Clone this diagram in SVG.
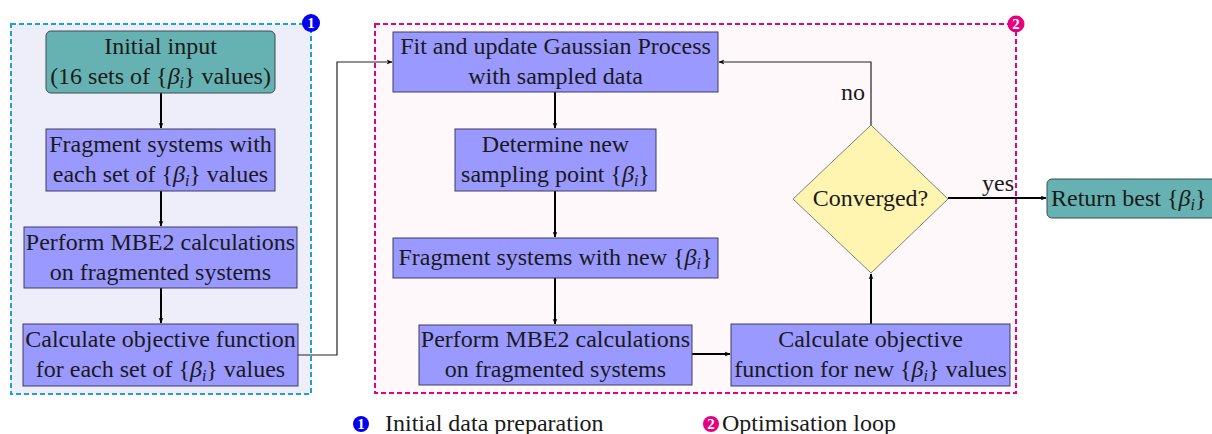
<svg xmlns="http://www.w3.org/2000/svg" width="1212" height="434" viewBox="0 0 1212 434">
<defs>
<marker id="ah" viewBox="0 0 10 10" refX="9" refY="5" markerWidth="6" markerHeight="6" markerUnits="userSpaceOnUse" orient="auto">
<path d="M0,1 L10,5 L0,9 L3,5 Z" fill="#000"/>
</marker>
</defs>
<g id="group1">
<rect x="11" y="24" width="300" height="370" fill="#EEEEFB" stroke="#1BA1D6" stroke-width="2" stroke-dasharray="5,3"/>
<circle cx="311" cy="23" r="9" fill="#0000EE"/>
<text x="311" y="28" font-family="Liberation Serif" font-size="15" font-weight="bold" fill="#fff" text-anchor="middle">1</text>
</g>
<g id="group2">
<rect x="375" y="24" width="641" height="369" fill="#FFF8FA" stroke="#E6007E" stroke-width="2" stroke-dasharray="5,3"/>
<circle cx="1016" cy="24" r="8.5" fill="#E6007E"/>
<text x="1016" y="29" font-family="Liberation Serif" font-size="15" font-weight="bold" fill="#fff" text-anchor="middle">2</text>
</g>
<g id="connectors" fill="none">
<g stroke="#000" stroke-width="2" marker-end="url(#ah)">
<line x1="161" y1="93" x2="161" y2="128"/>
<line x1="161" y1="191" x2="161" y2="226"/>
<line x1="161" y1="287" x2="161" y2="323"/>
<line x1="555" y1="92" x2="555" y2="128"/>
<line x1="555" y1="191" x2="555" y2="237"/>
<line x1="555" y1="278" x2="555" y2="324"/>
<line x1="692" y1="354" x2="730" y2="354"/>
<line x1="871" y1="324" x2="871" y2="274"/>
<line x1="948" y1="198" x2="1046" y2="198"/>
</g>
<g stroke="#222" stroke-width="1.2" marker-end="url(#ah)">
<polyline points="298,355 337,355 337,62 392,62"/>
<polyline points="871,125 871,62 719,62"/>
</g>
<text x="853" y="100" font-family="Liberation Serif" font-size="24" fill="#1a1a1a" text-anchor="middle">no</text>
<text x="998" y="191" font-family="Liberation Serif" font-size="24" fill="#1a1a1a" text-anchor="middle">yes</text>
</g>
<g id="nodes">
<g id="n1">
<rect x="46" y="31" width="229" height="62" rx="5" fill="#66B2B2" stroke="#3d4a4a"/>
<text x="160.5" y="54" font-family="Liberation Serif" font-size="24" fill="#1a1a1a" text-anchor="middle">Initial input</text>
<text x="160.5" y="84" font-family="Liberation Serif" font-size="24" fill="#1a1a1a" text-anchor="middle">(16 sets of {<tspan font-style="italic">β</tspan><tspan font-style="italic" font-size="16" dy="4">i</tspan><tspan dy="-4">} values)</tspan></text>
</g>
<g id="n2">
<rect x="46" y="129" width="229" height="62" fill="#9999FF" stroke="#3d3d5c"/>
<text x="160.5" y="152" font-family="Liberation Serif" font-size="24" fill="#1a1a1a" text-anchor="middle">Fragment systems with</text>
<text x="160.5" y="182" font-family="Liberation Serif" font-size="24" fill="#1a1a1a" text-anchor="middle">each set of {<tspan font-style="italic">β</tspan><tspan font-style="italic" font-size="16" dy="4">i</tspan><tspan dy="-4">} values</tspan></text>
</g>
<g id="n3">
<rect x="24" y="227" width="273" height="61" fill="#9999FF" stroke="#3d3d5c"/>
<text x="160.5" y="250" font-family="Liberation Serif" font-size="24" fill="#1a1a1a" text-anchor="middle">Perform MBE2 calculations</text>
<text x="160.5" y="280" font-family="Liberation Serif" font-size="24" fill="#1a1a1a" text-anchor="middle">on fragmented systems</text>
</g>
<g id="n4">
<rect x="23" y="324" width="275" height="62" fill="#9999FF" stroke="#3d3d5c"/>
<text x="160.5" y="347" font-family="Liberation Serif" font-size="24" fill="#1a1a1a" text-anchor="middle">Calculate objective function</text>
<text x="160.5" y="377" font-family="Liberation Serif" font-size="24" fill="#1a1a1a" text-anchor="middle">for each set of {<tspan font-style="italic">β</tspan><tspan font-style="italic" font-size="16" dy="4">i</tspan><tspan dy="-4">} values</tspan></text>
</g>
<g id="n5">
<rect x="393" y="32" width="325" height="60" fill="#9999FF" stroke="#3d3d5c"/>
<text x="555.5" y="54" font-family="Liberation Serif" font-size="24" fill="#1a1a1a" text-anchor="middle">Fit and update Gaussian Process</text>
<text x="555.5" y="84" font-family="Liberation Serif" font-size="24" fill="#1a1a1a" text-anchor="middle">with sampled data</text>
</g>
<g id="n6">
<rect x="455" y="129" width="201" height="62" fill="#9999FF" stroke="#3d3d5c"/>
<text x="555.5" y="152" font-family="Liberation Serif" font-size="24" fill="#1a1a1a" text-anchor="middle">Determine new</text>
<text x="555.5" y="182" font-family="Liberation Serif" font-size="24" fill="#1a1a1a" text-anchor="middle">sampling point {<tspan font-style="italic">β</tspan><tspan font-style="italic" font-size="16" dy="4">i</tspan><tspan dy="-4">}</tspan></text>
</g>
<g id="n7">
<rect x="393" y="238" width="325" height="40" fill="#9999FF" stroke="#3d3d5c"/>
<text x="555.5" y="265" font-family="Liberation Serif" font-size="24" fill="#1a1a1a" text-anchor="middle">Fragment systems with new {<tspan font-style="italic">β</tspan><tspan font-style="italic" font-size="16" dy="4">i</tspan><tspan dy="-4">}</tspan></text>
</g>
<g id="n8">
<rect x="419" y="325" width="273" height="60" fill="#9999FF" stroke="#3d3d5c"/>
<text x="555.5" y="347" font-family="Liberation Serif" font-size="24" fill="#1a1a1a" text-anchor="middle">Perform MBE2 calculations</text>
<text x="555.5" y="377" font-family="Liberation Serif" font-size="24" fill="#1a1a1a" text-anchor="middle">on fragmented systems</text>
</g>
<g id="n9">
<rect x="731" y="324" width="279" height="62" fill="#9999FF" stroke="#3d3d5c"/>
<text x="870.5" y="347" font-family="Liberation Serif" font-size="24" fill="#1a1a1a" text-anchor="middle">Calculate objective</text>
<text x="870.5" y="377" font-family="Liberation Serif" font-size="24" fill="#1a1a1a" text-anchor="middle">function for new {<tspan font-style="italic">β</tspan><tspan font-style="italic" font-size="16" dy="4">i</tspan><tspan dy="-4">} values</tspan></text>
</g>
<g id="n10">
<polygon points="871,125 948,199 871,273 793,199" fill="#FFF5B0" stroke="#808080"/>
<text x="870.5" y="206" font-family="Liberation Serif" font-size="24" fill="#1a1a1a" text-anchor="middle">Converged?</text>
</g>
<g id="n11">
<rect x="1047" y="179" width="175" height="39" rx="5" fill="#66B2B2" stroke="#3d4a4a"/>
<text x="1051" y="206" font-family="Liberation Serif" font-size="24" fill="#1a1a1a">Return best {<tspan font-style="italic">β</tspan><tspan font-style="italic" font-size="16" dy="4">i</tspan><tspan dy="-4">}</tspan></text>
</g>
</g>
<g id="legend">
<circle cx="361" cy="424" r="8" fill="#0000EE"/>
<text x="361" y="429" font-family="Liberation Serif" font-size="15" font-weight="bold" fill="#fff" text-anchor="middle">1</text>
<text x="385" y="431" font-family="Liberation Serif" font-size="24" fill="#1a1a1a">Initial data preparation</text>
<circle cx="711" cy="424" r="8" fill="#E6007E"/>
<text x="711" y="429" font-family="Liberation Serif" font-size="15" font-weight="bold" fill="#fff" text-anchor="middle">2</text>
<text x="722" y="431" font-family="Liberation Serif" font-size="24" fill="#1a1a1a">Optimisation loop</text>
</g>
</svg>
